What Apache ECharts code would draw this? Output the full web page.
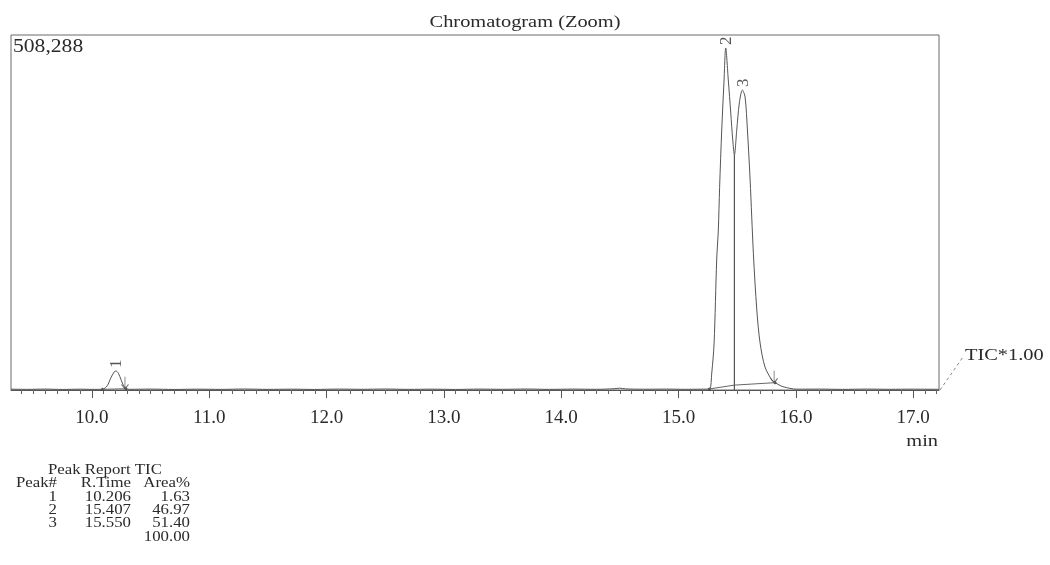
<!DOCTYPE html>
<html>
<head>
<meta charset="utf-8">
<title>Chromatogram (Zoom)</title>
<script src="https://cdn.jsdelivr.net/npm/echarts@6/dist/echarts.min.js"></script>
<style>
  html, body { margin: 0; padding: 0; background: #ffffff; }
  #chart { width: 1050px; height: 565px; }
</style>
</head>
<body>
<div id="chart"></div>
<script>
// TIC trace, [retention time (min), intensity]
const ticTrace = [
  [9.31, 1200], [9.45, 900], [9.6, 1300], [9.75, 800], [9.9, 1200], [10.0, 900],
  [10.09, 1000], [10.13, 6000], [10.16, 17000], [10.19, 26000], [10.206, 27200],
  [10.225, 24000], [10.25, 14000], [10.27, 6000], [10.29, 1800], [10.32, 1000],
  [10.5, 1300], [10.7, 800], [10.9, 1200], [11.1, 900], [11.3, 1400], [11.5, 900],
  [11.7, 1200], [11.9, 800], [12.1, 1300], [12.3, 1000], [12.5, 1400], [12.7, 900],
  [12.9, 1200], [13.1, 800], [13.3, 1300], [13.5, 1000], [13.7, 1400], [13.9, 900],
  [14.1, 1300], [14.3, 1000], [14.45, 1800], [14.5, 2600], [14.55, 1600], [14.7, 1100],
  [14.9, 1300], [15.05, 1000], [15.2, 1200], [15.263, 1500],
  [15.283, 24300], [15.303, 67300], [15.325, 186100], [15.339, 229100], [15.35, 290000],
  [15.368, 372300], [15.388, 443900], [15.402, 489700], [15.424, 443900], [15.445, 396600],
  [15.462, 358000], [15.476, 336500], [15.496, 372300], [15.518, 410900], [15.544, 429500],
  [15.567, 419500], [15.587, 372300], [15.61, 300700], [15.638, 195000], [15.667, 114500],
  [15.695, 67300], [15.737, 32900], [15.795, 14300], [15.823, 10500], [15.891, 4700],
  [16.008, 1200], [16.2, 1300], [16.4, 900], [16.6, 1300], [16.8, 1000], [17.0, 1200],
  [17.22, 1000]
];

// integration baselines and peak start / end points
const baselinePeak1 = [[10.09, 1000], [10.29, 1800]];
const baselinePeak23 = [[15.263, 1500], [15.476, 7000], [15.823, 10500]];
const dropLine = [[15.476, 0], [15.476, 336500]];
const peakStarts = [[10.09, 1000], [15.263, 1500]];
const peakEnds = [[10.29, 1800], [15.823, 10500]];

// peak report
const peakNums = ['1', '2', '3'];
const retTimes = [10.206, 15.407, 15.550];
const areaPct = [1.63, 46.97, 51.40];
const apexHeights = [27200, 489700, 429500];
const areaTotal = '100.00';

// axis
const xMin = 9.31, xMax = 17.22;
const yMax = 508288;
const majorTicks = [10, 11, 12, 13, 14, 15, 16, 17];
const minorTicks = [];
for (let i = 94; i <= 172; i++) { if (i % 10 !== 0) minorTicks.push(i / 10); }

const serif = '"Liberation Serif", "DejaVu Serif", serif';
const textColor = '#2a2a2a';
const lineColor = '#555555';
const stretch = 1.2; // printed text is set slightly wide

const apexPoints = peakNums.map((n, i) => [retTimes[i], apexHeights[i], n]);

// text helper: anchored at (x, y), widened horizontally
function label(text, x, y, size, align) {
  return {
    type: 'text', x: x, y: y, scaleX: stretch, scaleY: 1,
    style: { text: text, font: size + 'px ' + serif, fill: textColor, textAlign: align || 'left', textVerticalAlign: 'middle' }
  };
}

// peak report table as text rows
const tableTexts = [];
const rowY = [497, 510, 523];
tableTexts.push(label('Peak Report TIC', 48, 470, 14, 'left'));
[['Peak#', 57], ['R.Time', 131], ['Area%', 190]].forEach(h => tableTexts.push(label(h[0], h[1], 483, 14, 'right')));
peakNums.forEach((n, i) => {
  tableTexts.push(label(n, 57, rowY[i], 14, 'right'));
  tableTexts.push(label(retTimes[i].toFixed(3), 131, rowY[i], 14, 'right'));
  tableTexts.push(label(areaPct[i].toFixed(2), 190, rowY[i], 14, 'right'));
});
tableTexts.push(label(areaTotal, 190, 537, 14, 'right'));

const arrowPath = 'path://M5,0 L5,14 M1,9 L5,14 L9,9';

const chart = echarts.init(document.getElementById('chart'), null, { renderer: 'canvas' });
chart.setOption({
  backgroundColor: '#ffffff',
  animation: false,
  grid: {
    left: 11, right: 111, top: 35, bottom: 175,
    show: true, borderColor: '#6a6a6a', borderWidth: 1, backgroundColor: 'transparent'
  },
  xAxis: [
    {
      type: 'value', min: xMin, max: xMax,
      axisLine: { show: true, onZero: false, lineStyle: { color: '#555', width: 1 } },
      splitLine: { show: false },
      axisTick: { show: true, customValues: majorTicks, length: 8, lineStyle: { color: '#555' } },
      axisLabel: {
        customValues: majorTicks, margin: 19,
        formatter: v => v.toFixed(1),
        fontFamily: serif, fontSize: 19, color: textColor
      }
    },
    {
      type: 'value', min: xMin, max: xMax, position: 'bottom',
      axisLine: { show: false },
      splitLine: { show: false },
      axisTick: { show: true, customValues: minorTicks, length: 4, lineStyle: { color: '#666' } },
      axisLabel: { show: false }
    }
  ],
  yAxis: {
    type: 'value', min: 0, max: yMax,
    axisLine: { show: false }, axisTick: { show: false }, axisLabel: { show: false }, splitLine: { show: false }
  },
  series: [
    {
      name: 'TIC', type: 'line', data: ticTrace, showSymbol: false, smooth: 0.3,
      lineStyle: { color: lineColor, width: 1 }, z: 3
    },
    {
      name: 'baseline1', type: 'line', data: baselinePeak1, showSymbol: false,
      lineStyle: { color: '#666', width: 1 }
    },
    {
      name: 'baseline23', type: 'line', data: baselinePeak23, showSymbol: false,
      lineStyle: { color: '#666', width: 1 }
    },
    {
      name: 'drop', type: 'line', data: dropLine, showSymbol: false,
      lineStyle: { color: '#555', width: 1.2 }
    },
    {
      name: 'starts', type: 'scatter', data: peakStarts, symbol: 'circle', symbolSize: 3,
      itemStyle: { color: '#333' }
    },
    {
      name: 'ends', type: 'scatter', data: peakEnds, symbol: arrowPath, symbolSize: [7, 12],
      symbolOffset: [-1, -6], symbolKeepAspect: false,
      itemStyle: { color: 'none', borderColor: '#444', borderWidth: 1 }
    },
    {
      name: 'ends-dot', type: 'scatter', data: peakEnds, symbol: 'circle', symbolSize: 3,
      itemStyle: { color: '#333' }
    },
    {
      name: 'peaks', type: 'scatter', data: apexPoints, symbolSize: 0,
      label: {
        show: true, position: 'top', distance: 3, rotate: 90,
        align: 'left', verticalAlign: 'middle',
        formatter: p => p.value[2],
        fontFamily: serif, fontSize: 17, color: textColor
      }
    }
  ],
  graphic: [
    label('Chromatogram (Zoom)', 525, 23, 17, 'center'),
    label('508,288', 13, 47, 18, 'left'),
    label('min', 938, 442, 17, 'right'),
    { type: 'line', shape: { x1: 940, y1: 390, x2: 963, y2: 357 }, style: { stroke: '#888', lineWidth: 1, lineDash: [3, 3] } },
    label('TIC*1.00', 965, 356, 17, 'left')
  ].concat(tableTexts)
});
</script>
</body>
</html>
